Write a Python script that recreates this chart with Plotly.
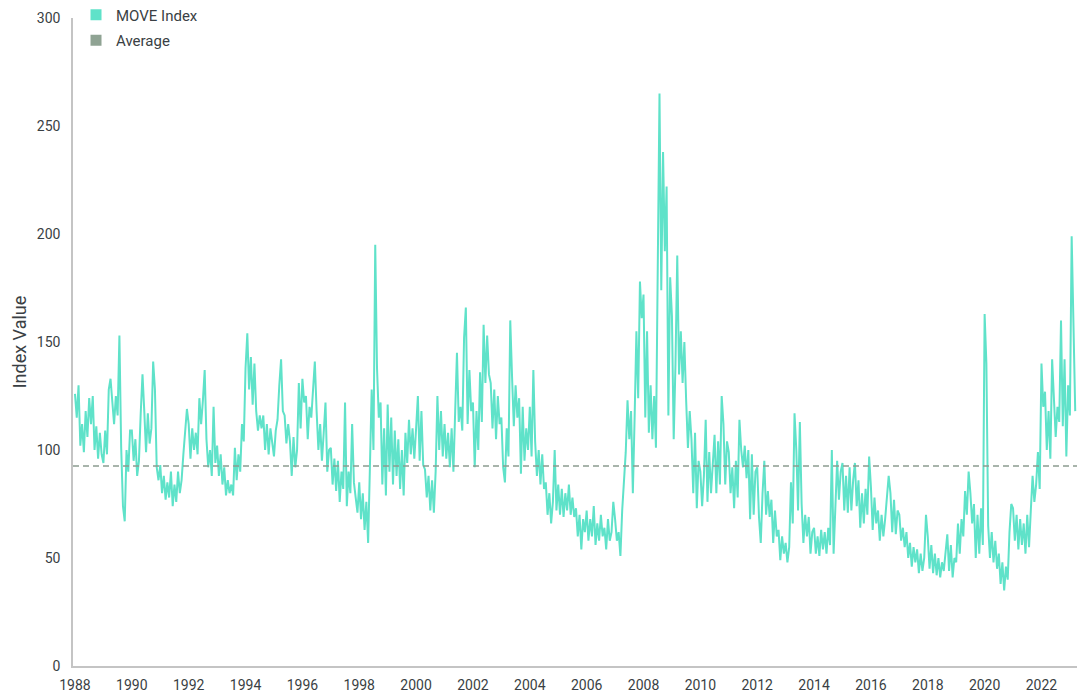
import plotly.graph_objects as go

# MOVE Index values (about 16 readings per year, alternating highs and lows)
y1988 = [126, 115, 130, 102, 112, 99, 118, 106, 124, 112, 125, 100, 111, 96, 108, 98]
y1989 = [94, 109, 98, 128, 133, 123, 112, 125, 116, 153, 101, 74, 67, 100, 90, 109]
y1990 = [109, 95, 105, 88, 95, 117, 135, 118, 99, 117, 103, 110, 141, 128, 92, 86]
y1991 = [93, 80, 88, 77, 85, 78, 90, 74, 84, 76, 90, 80, 86, 98, 108, 119]
y1992 = [112, 96, 110, 100, 108, 98, 124, 112, 123, 137, 105, 92, 100, 88, 120, 94]
y1993 = [102, 88, 98, 84, 92, 79, 86, 80, 84, 79, 101, 86, 98, 90, 112, 104]
y1994 = [138, 154, 128, 143, 121, 140, 118, 109, 116, 110, 116, 100, 112, 98, 110, 104]
y1995 = [97, 109, 114, 130, 142, 118, 116, 103, 112, 104, 88, 106, 92, 100, 131, 110]
y1996 = [133, 122, 125, 105, 120, 115, 130, 141, 118, 100, 112, 95, 108, 122, 90, 100]
y1997 = [101, 84, 96, 81, 95, 76, 90, 82, 122, 74, 90, 80, 112, 85, 78, 71]
y1998 = [85, 68, 80, 63, 76, 57, 92, 128, 100, 195, 138, 115, 122, 84, 110, 79]
y1999 = [121, 90, 115, 84, 109, 88, 105, 82, 100, 79, 108, 94, 114, 98, 110, 96]
y2000 = [110, 125, 95, 118, 93, 91, 78, 88, 72, 86, 71, 90, 125, 100, 118, 97]
y2001 = [112, 96, 108, 92, 110, 90, 118, 145, 113, 120, 109, 152, 166, 112, 137, 118]
y2002 = [122, 92, 118, 100, 136, 113, 158, 131, 153, 135, 131, 110, 128, 105, 125, 112]
y2003 = [115, 92, 85, 110, 97, 160, 134, 111, 130, 115, 124, 89, 120, 95, 110, 100]
y2004 = [120, 97, 137, 104, 88, 100, 84, 98, 82, 85, 70, 80, 66, 76, 100, 72]
y2005 = [84, 70, 82, 69, 80, 72, 84, 70, 78, 69, 73, 60, 70, 54, 68, 62]
y2006 = [72, 58, 68, 60, 74, 56, 66, 58, 70, 60, 64, 54, 68, 58, 62, 76]
y2007 = [68, 58, 62, 51, 72, 84, 99, 123, 105, 118, 80, 115, 155, 124, 178, 161]
y2008 = [172, 115, 155, 108, 130, 105, 125, 101, 184, 265, 174, 238, 192, 222, 116, 180]
y2009 = [162, 105, 140, 190, 135, 155, 131, 150, 123, 101, 118, 105, 80, 108, 73, 95]
y2010 = [90, 74, 88, 114, 76, 99, 80, 96, 107, 80, 104, 84, 125, 112, 84, 104]
y2011 = [99, 80, 92, 73, 95, 78, 114, 100, 92, 102, 87, 100, 68, 98, 70, 90]
y2012 = [92, 69, 57, 80, 95, 70, 81, 69, 77, 57, 72, 60, 63, 49, 60, 52]
y2013 = [57, 48, 55, 85, 66, 117, 100, 72, 113, 75, 57, 70, 60, 69, 52, 62]
y2014 = [64, 52, 60, 51, 63, 54, 62, 52, 64, 56, 100, 52, 79, 95, 77, 90]
y2015 = [94, 72, 88, 71, 92, 72, 86, 94, 74, 86, 64, 80, 66, 82, 70, 97]
y2016 = [83, 63, 78, 66, 72, 58, 70, 60, 68, 77, 88, 80, 62, 77, 61, 72]
y2017 = [70, 58, 64, 55, 62, 50, 57, 46, 55, 48, 54, 43, 52, 44, 50, 70]
y2018 = [60, 45, 56, 43, 52, 42, 50, 41, 48, 44, 52, 61, 44, 56, 41, 50]
y2019 = [48, 66, 52, 68, 60, 81, 70, 90, 80, 66, 75, 50, 70, 52, 73, 56]
y2020 = [163, 140, 65, 50, 62, 48, 58, 45, 52, 38, 48, 35, 46, 40, 62, 75]
y2021 = [73, 58, 70, 54, 68, 56, 66, 52, 70, 55, 72, 88, 76, 84, 99, 82]
y2022 = [140, 120, 127, 100, 118, 96, 142, 120, 106, 120, 113, 160, 111, 142, 97, 130]
y2023 = [116, 199, 154, 118]

years = list(range(1988, 2024))
yearly_values = [y1988, y1989, y1990, y1991, y1992, y1993, y1994, y1995, y1996,
                 y1997, y1998, y1999, y2000, y2001, y2002, y2003, y2004, y2005,
                 y2006, y2007, y2008, y2009, y2010, y2011, y2012, y2013, y2014,
                 y2015, y2016, y2017, y2018, y2019, y2020, y2021, y2022, y2023]
readings_per_year = 16

average_value = 92.6
tick_years = list(range(1988, 2024, 2))
series_names = ["MOVE Index", "Average"]

move_color = "#5FE2C9"
avg_color = "#8FA393"

dates, values = [], []
for yr, vals in zip(years, yearly_values):
    for k, v in enumerate(vals):
        dates.append(yr + k / readings_per_year)
        values.append(v)

fig = go.Figure()
fig.add_trace(go.Scatter(x=dates, y=values, mode="lines", name=series_names[0],
                         line=dict(color=move_color, width=2), showlegend=False,
                         hoverinfo="skip"))
fig.add_hline(y=average_value, line=dict(color="#8C9C90", width=1.3, dash="6px,4px"))

# legend entries with square swatches
fig.add_trace(go.Scatter(x=[None], y=[None], mode="markers", name=series_names[0],
                         legendgroup="a",
                         marker=dict(symbol="square", size=11, color=move_color)))
fig.add_trace(go.Scatter(x=[None], y=[None], mode="markers", name=series_names[1],
                         legendgroup="b",
                         marker=dict(symbol="square", size=11, color=avg_color)))

font_family = "Roboto, Arial, sans-serif"
text_color = "#3a3f44"
fig.update_layout(
    width=1079, height=695,
    margin=dict(l=73, r=2, t=18, b=29, autoexpand=False),
    paper_bgcolor="white", plot_bgcolor="white",
    font=dict(family=font_family, size=14, color=text_color),
    legend=dict(x=0.003, xanchor="left", y=1.03, yanchor="top",
                font=dict(size=15, color=text_color), bgcolor="rgba(0,0,0,0)",
                tracegroupgap=3, itemclick=False),
    xaxis=dict(range=[1987.93, 2023.25], tickvals=tick_years,
               ticktext=[str(t) for t in tick_years],
               showline=True, linecolor="#c4c4c4", linewidth=1.5,
               showgrid=False, zeroline=False, ticks="", automargin=False,
               tickfont=dict(size=14, color=text_color), ticklabelstandoff=5),
    yaxis=dict(range=[0, 300], dtick=50, tick0=0, automargin=False,
               showline=True, linecolor="#c4c4c4", linewidth=1.5,
               showgrid=False, zeroline=False, ticks="",
               tickfont=dict(size=14, color=text_color), ticklabelstandoff=8,
               title=dict(text="Index Value", font=dict(size=18, color=text_color),
                          standoff=6)),
)

fig.write_html("out.html", config={"displayModeBar": False},
               post_script="document.body.style.margin='0px';")
